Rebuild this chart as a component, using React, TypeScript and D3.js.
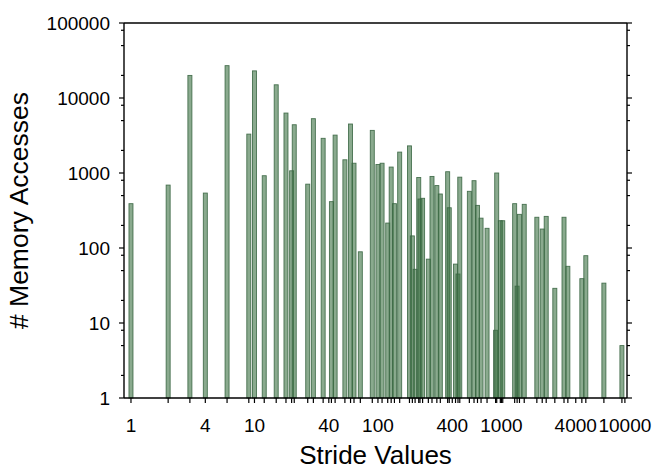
import React from "react";
import * as d3 from "d3";

// Stride value (x) and number of memory accesses (y) for each bar
const strides = [
  1, 2, 3, 4, 6, 9, 10, 12, 15, 18,
  20, 21, 27, 30, 36, 42, 45, 54,
  60, 64, 72, 90, 100, 108, 120, 128, 136, 150,
  180, 190, 200, 214, 219, 230, 256, 274, 300, 320, 367, 378,
  425, 445, 460, 550, 600, 640, 684, 765, 897, 916, 980, 1025,
  1280, 1340, 1400, 1530, 1936, 2140, 2305, 2707,
  3213, 3452, 4481, 4826, 6759, 9459,
];
const accesses = [
  390, 690, 20000, 540, 27000, 3300, 23000, 920, 15000, 6300,
  1070, 4400, 710, 5300, 2900, 415, 3200, 1500,
  4500, 1350, 89, 3700, 1300, 1350, 215, 1200, 390, 1900,
  2300, 145, 52, 870, 450, 460, 71, 900, 680, 525, 1040, 344,
  61, 45, 880, 570, 790, 370, 250, 183, 8, 1000, 231, 231,
  390, 31, 281, 382, 257, 179, 264, 29,
  257, 57, 39, 79, 34, 5,
];

const xTickLabels = [1, 4, 10, 40, 100, 400, 1000, 4000, 10000];
const yMajorTicks = [1, 10, 100, 1000, 10000, 100000];
const yMinorMultipliers = [2, 5, 8];

const W = 655;
const H = 470;
const left = 124;
const right = 627;
const top = 23;
const bottom = 398;

export default function App() {
  const x = d3.scaleLog().domain([0.878, 10400]).range([left, right]);
  const y = d3.scaleLog().domain([1, 100000]).range([bottom, top]);

  const barW = 4;
  const font = "Arial, 'Liberation Sans', Helvetica, sans-serif";

  const yMinor: number[] = [];
  for (let k = 0; k < 5; k++) {
    for (const m of yMinorMultipliers) yMinor.push(m * Math.pow(10, k));
  }

  const xTicks = Array.from(new Set([...strides, ...xTickLabels]));

  return (
    <svg
      width={W}
      height={H}
      style={{ position: "absolute", left: 0, top: 0, background: "#fff" }}
      fontFamily={font}
    >
      {/* bars */}
      <g>
        {strides.map((s, i) => (
          <rect
            key={i}
            x={x(s) - barW / 2}
            y={y(accesses[i])}
            width={barW}
            height={y(1) - y(accesses[i])}
            fill="rgb(60,113,67)"
            fillOpacity={0.6}
            stroke="rgb(58,102,66)"
            strokeOpacity={0.9}
            strokeWidth={0.9}
          />
        ))}
      </g>

      {/* frame */}
      <g stroke="#000" strokeWidth={1.4} fill="none">
        <line x1={left} x2={left} y1={top} y2={bottom} />
        <line x1={right} x2={right} y1={top} y2={bottom} />
        <line x1={left} x2={right} y1={top} y2={top} />
        <line x1={left} x2={right} y1={bottom} y2={bottom} />
      </g>

      {/* y ticks, left and right */}
      <g stroke="#000" strokeWidth={1.2}>
        {yMajorTicks.map((t) => (
          <g key={"M" + t}>
            <line x1={left - 5} x2={left} y1={y(t)} y2={y(t)} />
            <line x1={right} x2={right + 5} y1={y(t)} y2={y(t)} />
          </g>
        ))}
        {yMinor.map((t) => (
          <g key={"m" + t}>
            <line x1={left - 3} x2={left} y1={y(t)} y2={y(t)} />
            <line x1={right} x2={right + 3} y1={y(t)} y2={y(t)} />
          </g>
        ))}
      </g>
      <g fontSize={19} textAnchor="end" fill="#000">
        {yMajorTicks.map((t) => (
          <text key={t} x={left - 14} y={y(t)} dy="0.35em">
            {String(t)}
          </text>
        ))}
      </g>

      {/* x ticks */}
      <g stroke="#000" strokeWidth={1.2}>
        {xTicks.map((t) => (
          <line key={t} x1={x(t)} x2={x(t)} y1={bottom} y2={bottom + 5} />
        ))}
      </g>
      <g fontSize={19} textAnchor="middle" fill="#000">
        {xTickLabels.map((t) => (
          <text key={t} x={x(t)} y={432}>
            {String(t)}
          </text>
        ))}
      </g>

      {/* axis titles */}
      <text x={(left + right) / 2} y={464} fontSize={26} textAnchor="middle">
        Stride Values
      </text>
      <text
        transform={`translate(28, ${(top + bottom) / 2}) rotate(-90)`}
        fontSize={26.5}
        textAnchor="middle"
      >
        # Memory Accesses
      </text>
    </svg>
  );
}
